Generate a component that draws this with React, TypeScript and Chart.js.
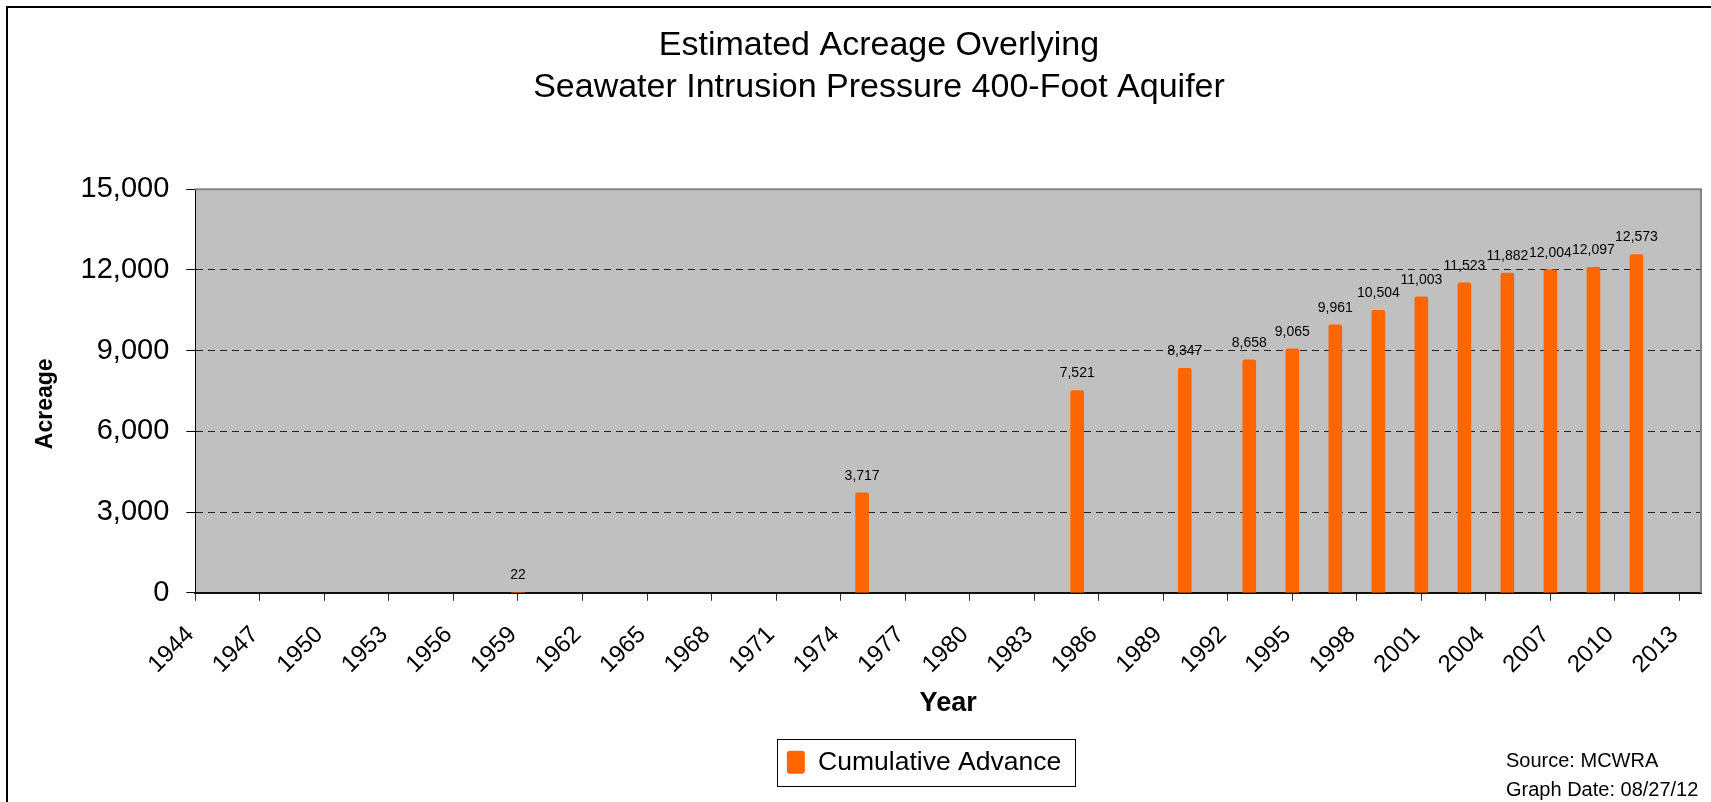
import React, { useEffect, useRef } from 'react';
import { Chart, registerables } from 'chart.js';

Chart.register(...registerables);

// ---- data ----
const years = [1959, 1975, 1985, 1990, 1993, 1995, 1997, 1999, 2001, 2003, 2005, 2007, 2009, 2011];
const cumulativeAdvance = [22, 3717, 7521, 8347, 8658, 9065, 9961, 10504, 11003, 11523, 11882, 12004, 12097, 12573];
const xTickYears = [
  1944, 1947, 1950, 1953, 1956, 1959, 1962, 1965, 1968, 1971, 1974, 1977,
  1980, 1983, 1986, 1989, 1992, 1995, 1998, 2001, 2004, 2007, 2010, 2013,
];
const yTickValues = [0, 3000, 6000, 9000, 12000, 15000];
const titleLines = ['Estimated Acreage Overlying', 'Seawater Intrusion Pressure 400-Foot Aquifer'];
const seriesLabel = 'Cumulative Advance';
const xAxisTitle = 'Year';
const yAxisTitle = 'Acreage';
const sourceLines = ['Source: MCWRA', 'Graph Date: 08/27/12'];

const FONT = "'Liberation Sans', Arial, Helvetica, sans-serif";
const fmt = (v: number) => Number(v).toLocaleString('en-US');

const decorations = {
  id: 'decorations',
  beforeDraw(chart: any) {
    const { ctx, chartArea: a } = chart;
    ctx.save();
    ctx.fillStyle = '#fff';
    ctx.fillRect(0, 0, chart.width, chart.height);
    ctx.strokeStyle = '#000';
    ctx.lineWidth = 2;
    ctx.strokeRect(7, 7, 3000, 3000);
    ctx.fillStyle = '#C0C0C0';
    ctx.fillRect(a.left, a.top, a.right - a.left, a.bottom - a.top);
    ctx.restore();
  },
  beforeDatasetsDraw(chart: any) {
    const { ctx, chartArea: a } = chart;
    ctx.save();
    ctx.strokeStyle = '#858585';
    ctx.lineWidth = 2;
    ctx.beginPath();
    ctx.moveTo(a.left, a.top);
    ctx.lineTo(a.right, a.top);
    ctx.lineTo(a.right, a.bottom);
    ctx.stroke();
    ctx.restore();
  },
  afterDatasetsDraw(chart: any) {
    const ctx = chart.ctx;
    const meta = chart.getDatasetMeta(0);
    ctx.save();
    ctx.font = `14px ${FONT}`;
    ctx.fillStyle = '#000';
    ctx.textAlign = 'center';
    ctx.textBaseline = 'middle';
    meta.data.forEach((el: any, i: number) => {
      ctx.fillText(fmt(cumulativeAdvance[i]), el.x, el.y - 17);
    });
    ctx.restore();
  },
  afterLayout(chart: any) {
    const t = chart.titleBlock;
    if (t) {
      const w = t.width;
      t.left = 879 - w / 2;
      t.right = t.left + w;
    }
    const l = chart.legend;
    if (l) {
      const w = l.width;
      const h = l.height;
      l.left = 924 - w / 2;
      l.right = l.left + w;
      l.top = 739;
      l.bottom = 739 + h;
    }
  },
  afterDraw(chart: any) {
    const ctx = chart.ctx;
    ctx.save();
    ctx.strokeStyle = '#000';
    ctx.lineWidth = 1;
    ctx.strokeRect(777.5, 739.5, 298, 47);
    ctx.font = `20px ${FONT}`;
    ctx.fillStyle = '#000';
    ctx.textAlign = 'left';
    ctx.textBaseline = 'middle';
    ctx.fillText(sourceLines[0], 1506, 761);
    ctx.fillText(sourceLines[1], 1506, 790);
    ctx.restore();
  },
};

export default function App() {
  const ref = useRef<HTMLCanvasElement>(null);
  useEffect(() => {
    document.body.style.margin = '0';
    Chart.defaults.font.family = FONT;
    const chart = new Chart(ref.current as HTMLCanvasElement, {
      type: 'bar',
      data: {
        datasets: [
          {
            label: seriesLabel,
            data: years.map((y, i) => ({ x: y, y: cumulativeAdvance[i] })),
            backgroundColor: '#FF6600',
            borderWidth: 0,
            barThickness: 13,
            borderRadius: 2,
            borderSkipped: 'start',
          } as any,
        ],
      },
      options: {
        animation: false,
        responsive: false,
        events: [],
        layout: { padding: { top: 0, left: 8, right: 10, bottom: 0 } },
        plugins: {
          title: {
            display: true,
            text: titleLines,
            color: '#000',
            font: { size: 34, weight: 'normal', lineHeight: 1.22 },
            padding: { top: 25, bottom: 81.3 },
          },
          legend: {
            display: true,
            position: 'bottom',
            labels: {
              color: '#000',
              font: { size: 26.5 },
              boxWidth: 18,
              boxHeight: 23,
              padding: 10,
              useBorderRadius: true,
              borderRadius: 3,
            },
          },
          tooltip: { enabled: false },
        },
        scales: {
          x: {
            type: 'linear',
            min: 1944,
            max: 2014,
            offset: false,
            afterBuildTicks: (s: any) => {
              s.ticks = xTickYears.map((v) => ({ value: v }));
            },
            afterFit: (s: any) => {
              s.height = 162.7;
              s.paddingRight = 0;
            },
            ticks: {
              autoSkip: false,
              minRotation: 45,
              maxRotation: 45,
              padding: 20,
              labelOffset: -5,
              color: '#000',
              font: { size: 24 },
              callback: (v: any) => String(v),
            },
            grid: {
              offset: false,
              drawOnChartArea: false,
              drawTicks: true,
              tickLength: 8,
              color: '#333',
              tickColor: '#333',
            },
            border: { display: true, color: '#111', width: 2 },
            title: {
              display: true,
              text: xAxisTitle,
              color: '#000',
              font: { size: 27, weight: 'bold' },
              padding: { top: 0, bottom: 35.8 },
            },
          } as any,
          y: {
            type: 'linear',
            min: 0,
            max: 15000,
            afterBuildTicks: (s: any) => {
              s.ticks = yTickValues.map((v) => ({ value: v }));
            },
            afterFit: (s: any) => {
              s.width = 187.3;
            },
            ticks: {
              color: '#000',
              font: { size: 29 },
              padding: 17,
              callback: (v: any) => fmt(v),
            },
            grid: {
              drawOnChartArea: true,
              drawTicks: true,
              tickLength: 9,
              lineWidth: 1,
              color: (c: any) =>
                c.tick && (c.tick.value === 0 || c.tick.value === 15000) ? 'rgba(0,0,0,0)' : '#222',
              tickColor: '#000',
              tickBorderDash: [],
            },
            border: { display: true, color: '#000', width: 1, dash: [7, 5] },
            title: {
              display: true,
              text: yAxisTitle + '    ',
              color: '#000',
              font: { size: 23, weight: 'bold' },
              padding: { top: 24, bottom: 0 },
            },
          } as any,
        },
      },
      plugins: [decorations],
    });
    return () => chart.destroy();
  }, []);
  return (
    <div style={{ position: 'relative', width: 1711, height: 802, overflow: 'hidden', background: '#fff' }}>
      <canvas ref={ref} width={1711} height={802} style={{ display: 'block' }} />
    </div>
  );
}
